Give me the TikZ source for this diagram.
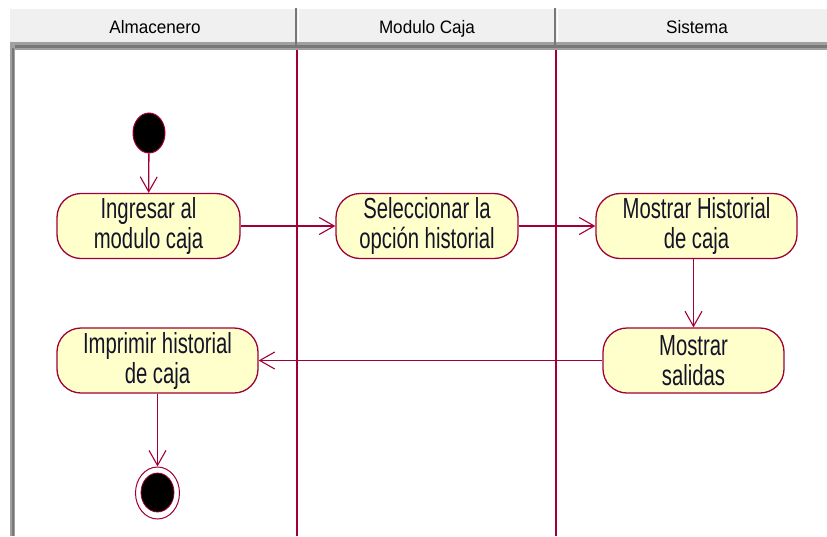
\documentclass[tikz,border=0pt]{standalone}
\usepackage{fontspec}
\setmainfont{Liberation Sans}
\newfontfamily\nodefont[FakeStretch=0.7]{Liberation Sans}
\newfontfamily\headfont[FakeStretch=0.95]{Liberation Sans}
\usetikzlibrary{arrows.meta,shapes.geometric}
\definecolor{umlred}{RGB}{160,0,55}
\definecolor{umlfill}{RGB}{255,255,204}
\definecolor{umltext}{RGB}{20,20,40}
\definecolor{hdrbg}{RGB}{240,240,240}
\definecolor{hdrgray}{RGB}{160,160,160}
\definecolor{hdrdark}{RGB}{120,120,120}
\tikzset{
  activity/.style={draw=umlred, line width=1.3pt, fill=umlfill, rounded corners=24pt,
    minimum height=65pt, inner sep=0pt, align=center, text=umltext,
    font=\nodefont\fontsize{29}{30}\selectfont},
  flow/.style={draw=umlred, line width=1.3pt,
    -{Straight Barb[length=15pt,width=17pt,line width=1.1pt]}},
  headtxt/.style={font=\headfont\fontsize{18}{20}\selectfont, text=black, anchor=base, inner sep=0pt},
  lane/.style={draw=umlred, line width=1.3pt},
  startnode/.style={ellipse, draw=umlred, fill=black, line width=1pt,
    minimum width=32pt, minimum height=40pt, inner sep=0pt},
  endouter/.style={ellipse, draw=umlred, fill=white, line width=1pt,
    minimum width=44pt, minimum height=52pt, inner sep=0pt},
  endinner/.style={ellipse, draw=umlred, fill=black, line width=0.8pt,
    minimum width=33pt, minimum height=39pt, inner sep=0pt}
}
\begin{document}
\begin{tikzpicture}[x=1pt,y=-1pt]
\useasboundingbox (0,0) rectangle (827,536);
\fill[white] (0,0) rectangle (827,536);
% header
\fill[hdrbg] (10,8) rectangle (827,42);
\draw[white, line width=1pt] (11,8.5) -- (827,8.5);
\fill[hdrgray] (10,42) rectangle (827,50);
\fill[hdrdark] (10,45) rectangle (827,48);
\fill[hdrgray] (10,42) rectangle (15,536);
\fill[hdrdark] (12,48) rectangle (14,536);
\fill[hdrdark] (295,8) rectangle (297,45);
\draw[white, line width=1pt] (298.5,8) -- (298.5,42);
\fill[hdrdark] (554,8) rectangle (556,45);
\draw[white, line width=1pt] (557.5,8) -- (557.5,42);
\node[headtxt] (h1) at (155,33) {Almacenero};
\node[headtxt] (h2) at (427,33) {Modulo Caja};
\node[headtxt] (h3) at (697,33) {Sistema};
% lanes
\draw[lane] (297,50) -- (297,536);
\draw[lane] (556,50) -- (556,536);
% nodes
\node[startnode] (start) at (149,133) {};
\node[activity, minimum width=183pt] (ing) at (148.5,226) {Ingresar al\\modulo caja};
\node[activity, minimum width=182pt] (sel) at (427,226) {Seleccionar la\\opción historial};
\node[activity, minimum width=201pt] (hist) at (696.5,226) {Mostrar Historial\\de caja};
\node[activity, minimum width=181pt] (sal) at (693.5,360.5) {Mostrar\\salidas};
\node[activity, minimum width=201pt] (imp) at (157.5,360.5) {Imprimir historial\\de caja};
\node[endouter] (endo) at (157.5,493) {};
\node[endinner] (endi) at (157.5,492.5) {};
% flows
\draw[flow] (start) -- (ing);
\draw[flow] (ing) -- (sel);
\draw[flow] (sel) -- (hist);
\draw[flow] (hist.south -| sal.north) -- (sal.north);
\draw[flow] (sal) -- (imp);
\draw[flow] (imp) -- (endo);
\end{tikzpicture}
\end{document}
